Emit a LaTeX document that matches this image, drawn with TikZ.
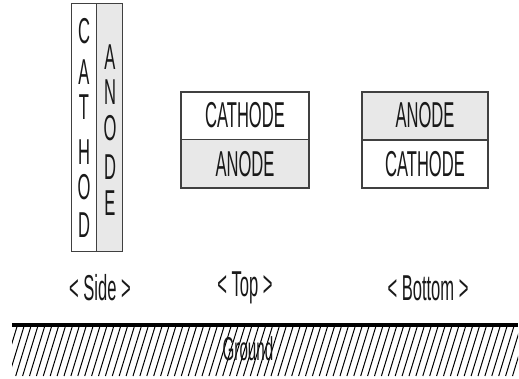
\documentclass[tikz,border=0pt]{standalone}
\usepackage{fontspec}
\setmainfont{Liberation Sans}
\begin{document}
\begin{tikzpicture}[x=1pt,y=1pt,
  lbl/.style={font=\fontsize{36}{38}\selectfont, xscale=0.46, inner sep=0pt, text=black!90},
  cell/.style={draw=black!75, line width=1.1pt},
  anodefill/.style={fill=black!9}]
\useasboundingbox (0,0) rectangle (519,378);
% Side view
\fill[anodefill] (96.7,126.5) rectangle (122.7,374.5);
\draw[cell] (71.7,126.5) rectangle (122.7,374.5);
\draw[cell] (96.7,126.5) -- (96.7,374.5);
\foreach \l/\y [count=\k] in {C/31,A/72,T/107,H/152,O/187,D/225}
  \node[lbl] (c\k) at (84,378-\y) {\l};
\foreach \l/\y [count=\k] in {A/57,N/92,O/128,D/167,E/203}
  \node[lbl] (a\k) at (110,378-\y) {\l};
% Top view
\fill[anodefill] (181,190) rectangle (309,238.5);
\draw[cell] (181,190) rectangle (309,286);
\draw[cell] (181,238.5) -- (309,238.5);
\node[lbl] (tc) at (245,263) {CATHODE};
\node[lbl] (ta) at (245,214) {ANODE};
% Bottom view
\fill[anodefill] (362,238) rectangle (488,286);
\draw[cell] (362,190) rectangle (488,286);
\draw[cell] (362,238) -- (488,238);
\node[lbl] (ba) at (425,263) {ANODE};
\node[lbl] (bc) at (425,214) {CATHODE};
% labels
\node[lbl] (ls) at (100,90) {< Side >};
\node[lbl] (lt) at (245,90) {< Top >};
\node[lbl] (lb) at (428,90) {< Bottom >};
% ground
\begin{scope}
\clip (12,2) rectangle (518,51);
\foreach \i in {0,...,80}
  \draw[line width=1pt] (-5+\i*6.9,2) -- ++(15,49);
\end{scope}
\draw[line width=4pt] (12,53) -- (518,53);
\node[lbl, font=\fontsize{33}{35}\selectfont] (gr) at (248,29) {Ground};
\end{tikzpicture}
\end{document}
